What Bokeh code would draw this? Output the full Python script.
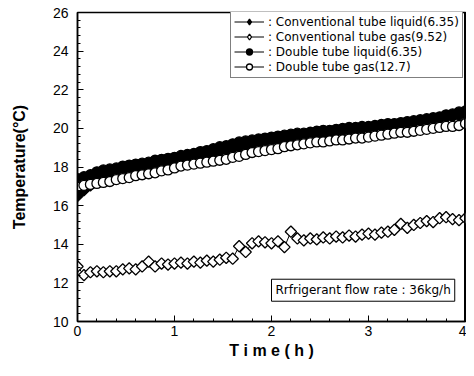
from bokeh.plotting import figure
from bokeh.models import (Legend, LegendItem, Label, Span, FixedTicker, ColumnDataSource)
from bokeh.embed import file_html
from bokeh.resources import INLINE
import math

TIME_MIN = [0, 4, 8, 12, 16, 20, 24, 28, 32, 36, 40, 44, 48, 52, 56, 60, 64, 68, 72, 76,
            80, 84, 88, 92, 96, 100, 104, 108, 112, 116, 120, 124, 128, 132, 136, 140, 144,
            148, 152, 156, 160, 164, 168, 172, 176, 180, 184, 188, 192, 196, 200, 204, 208,
            212, 216, 220, 224, 228, 232, 236, 240]

CONV_LIQUID = [16.5, 16.8, 17.05, 17.3, 17.5, 17.6, 17.7, 17.8, 17.85, 17.9,
               17.95, 18.0, 18.1, 18.15, 18.2, 18.3, 18.35, 18.45, 18.5, 18.55,
               18.65, 18.7, 18.8, 18.85, 18.95, 19.0, 19.1, 19.15, 19.2, 19.3,
               19.35, 19.4, 19.45, 19.5, 19.55, 19.6, 19.6, 19.65, 19.7, 19.75,
               19.8, 19.85, 19.9, 19.9, 19.95, 20.0, 20.05, 20.1, 20.1, 20.15,
               20.2, 20.25, 20.3, 20.35, 20.4, 20.45, 20.5, 20.55, 20.6, 20.65, 20.7]

CONV_GAS = [12.85, 12.4, 12.55, 12.6, 12.55, 12.6, 12.6, 12.7, 12.75, 12.7,
            12.85, 13.1, 12.85, 13.0, 12.95, 13.0, 13.05, 13.0, 13.1, 13.05,
            13.15, 13.1, 13.2, 13.3, 13.25, 13.9, 13.6, 14.05, 14.15, 14.1,
            14.05, 14.15, 13.85, 14.65, 14.3, 14.2, 14.3, 14.25, 14.35, 14.3,
            14.4, 14.35, 14.45, 14.4, 14.5, 14.55, 14.5, 14.6, 14.65, 14.75,
            15.05, 14.85, 15.0, 15.1, 15.2, 15.15, 15.35, 15.4, 15.3, 15.25, 15.35]

DOUBLE_LIQUID = [17.4, 17.5, 17.6, 17.75, 17.85, 17.9, 17.95, 18.05, 18.1, 18.15,
                 18.2, 18.25, 18.35, 18.4, 18.45, 18.5, 18.6, 18.65, 18.7, 18.8,
                 18.85, 18.95, 19.05, 19.1, 19.2, 19.3, 19.35, 19.4, 19.45, 19.5,
                 19.55, 19.6, 19.65, 19.7, 19.75, 19.75, 19.8, 19.85, 19.9, 19.9,
                 19.95, 20.0, 20.05, 20.05, 20.1, 20.1, 20.15, 20.2, 20.25, 20.25,
                 20.3, 20.35, 20.4, 20.45, 20.5, 20.55, 20.6, 20.7, 20.75, 20.85, 20.9]

DOUBLE_GAS = [17.0, 17.05, 17.1, 17.15, 17.2, 17.25, 17.35, 17.4, 17.45, 17.55,
              17.6, 17.65, 17.7, 17.8, 17.85, 17.95, 18.05, 18.1, 18.15, 18.2,
              18.25, 18.3, 18.35, 18.4, 18.5, 18.55, 18.65, 18.75, 18.8, 18.85,
              18.9, 18.95, 19.05, 19.1, 19.15, 19.2, 19.25, 19.3, 19.3, 19.35,
              19.4, 19.4, 19.45, 19.5, 19.5, 19.55, 19.6, 19.65, 19.7, 19.75,
              19.8, 19.8, 19.85, 19.9, 19.95, 20.0, 20.05, 20.1, 20.1, 20.15, 20.25]

LABELS = [": Conventional tube liquid(6.35)",
          ": Conventional tube gas(9.52)",
          ": Double tube liquid(6.35)",
          ": Double tube gas(12.7)"]

X_TICKS = [0, 1, 2, 3, 4]
Y_TICKS = [10, 12, 14, 16, 18, 20, 22, 24, 26]

hours = [m / 60.0 for m in TIME_MIN]

p = figure(width=466, height=368, x_range=(0, 4), y_range=(10, 26),
           output_backend="svg", toolbar_location=None,
           min_border_left=77, min_border_right=1, min_border_top=12, min_border_bottom=47)
p.grid.visible = False
p.outline_line_color = "black"
p.outline_line_width = 1.5
p.background_fill_color = "white"

# (values, data marker, legend marker, fill, angle, size)
series = [
    (CONV_LIQUID, "square", "diamond", "black", math.pi / 4, 8),
    (CONV_GAS, "square", "diamond", "white", math.pi / 4, 8),
    (DOUBLE_LIQUID, "circle", "circle", "black", 0, 10),
    (DOUBLE_GAS, "circle", "circle", "white", 0, 10),
]

items = []
for (vals, marker, lmarker, fill, ang, size), lab in zip(series, LABELS):
    src = ColumnDataSource(dict(x=hours, y=vals))
    lr = p.line("x", "y", source=src, line_color="black", line_width=1)
    p.scatter("x", "y", source=src, marker=marker, size=size, angle=ang,
              fill_color=fill, line_color="black", line_width=1.3)
    hidden = ColumnDataSource(dict(x=[float("nan")], y=[float("nan")]))
    lg = p.scatter("x", "y", source=hidden, marker=lmarker, size=size,
                   fill_color=fill, line_color="black", line_width=1.3)
    items.append(LegendItem(label=lab, renderers=[lr, lg]))

legend = Legend(items=items, location=(153, 243), orientation="vertical")
legend.label_text_font = "DejaVu Sans"
legend.label_text_font_size = "12px"
legend.label_text_color = "black"
legend.glyph_width = 30
legend.glyph_height = 15
legend.spacing = 0
legend.padding = 3
legend.margin = 0
legend.label_standoff = 4
legend.label_height = 15
legend.border_line_color = "black"
legend.border_line_width = 1.5
legend.background_fill_color = "white"
legend.background_fill_alpha = 1
p.add_layout(legend, "center")

p.add_layout(Span(location=4, dimension="height", line_color="black", line_width=3))

flow = Label(x=2.0, y=11.05, text="Rrfrigerant flow rate : 36kg/h",
             text_font="DejaVu Sans", text_font_size="12px", text_color="black",
             padding=4, border_line_color="black", border_line_width=1,
             background_fill_color="white")
p.add_layout(flow)

for ax in (p.xaxis, p.yaxis):
    ax.axis_line_color = "black"
    ax.axis_line_width = 1.5
    ax.major_tick_in = 6
    ax.major_tick_out = 0
    ax.minor_tick_in = 3
    ax.minor_tick_out = 0
    ax.major_tick_line_color = "black"
    ax.minor_tick_line_color = "black"
    ax.major_label_text_font = "Liberation Sans"
    ax.major_label_text_font_size = "14px"
    ax.major_label_text_color = "black"
    ax.axis_label_text_font = "Liberation Sans"
    ax.axis_label_text_font_style = "bold"
    ax.axis_label_text_font_size = "16px"
    ax.axis_label_text_color = "black"

p.xaxis.ticker = FixedTicker(ticks=X_TICKS, minor_ticks=[i * 0.2 for i in range(21)])
p.yaxis.ticker = FixedTicker(ticks=Y_TICKS, minor_ticks=[10 + i * 0.4 for i in range(41)])
p.xaxis.axis_label = "T i m e ( h )"
p.yaxis.axis_label = "Temperature(°C)"
p.xaxis.major_label_standoff = 4
p.yaxis.major_label_standoff = 9
p.xaxis.axis_label_standoff = 3
p.yaxis.axis_label_standoff = 22

open("out.html", "w").write(file_html(p, INLINE))
